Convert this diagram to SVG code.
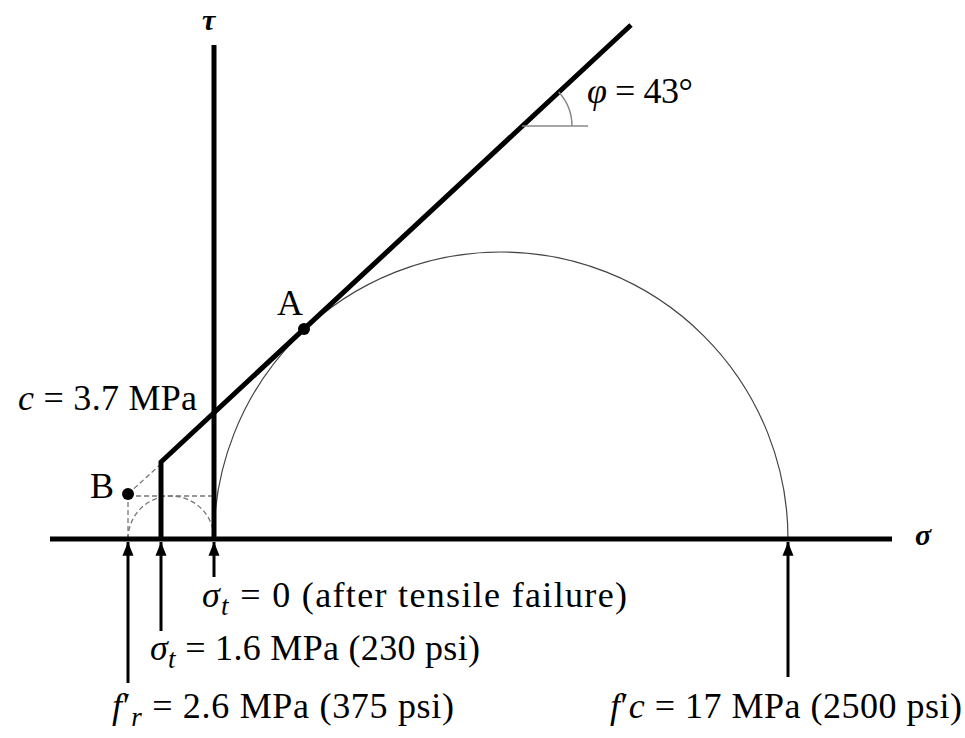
<svg xmlns="http://www.w3.org/2000/svg" width="965" height="738" viewBox="0 0 965 738">
<defs>
<style>
.t{font-family:"Liberation Serif","Times New Roman",serif;font-size:36px;fill:#000}
.i{font-style:italic}
.ax{font-family:"Liberation Serif","Times New Roman",serif;font-size:30px;font-weight:bold;font-style:italic}
.thick{stroke:#000;stroke-width:5;fill:none}
.thin{stroke:#444;stroke-width:1.2;fill:none}
.dash{stroke:#777;stroke-width:1.3;fill:none;stroke-dasharray:5 3}
.arr{stroke:#000;stroke-width:3;fill:none;marker-end:url(#ah)}
</style>
<marker id="ah" viewBox="0 0 10 8" refX="10" refY="4" markerWidth="4.6" markerHeight="3.7" orient="auto" markerUnits="strokeWidth">
<path d="M0,0 L10,4 L0,8 z" fill="#000"/>
</marker>
</defs>
<rect width="965" height="738" fill="#fff"/>
<g id="circles">
<path class="thin" d="M214,539 A287,287 0 0 1 788,539"/>
<path class="dash" d="M128,539 A43,43 0 0 1 214,539"/>
</g>
<g id="construction">
<line class="dash" x1="128" y1="496" x2="214" y2="496"/>
<line class="dash" x1="128" y1="494" x2="128" y2="539"/>
<line class="dash" x1="128" y1="494" x2="161" y2="464"/>
</g>
<g id="axes">
<line class="thick" x1="50" y1="539" x2="892" y2="539"/>
<line class="thick" x1="214" y1="45" x2="214" y2="539"/>
</g>
<g id="envelope">
<polyline class="thick" points="161,539 161,462 631,25" stroke-linejoin="miter"/>
<line x1="522" y1="126" x2="588" y2="126" stroke="#888" stroke-width="1.5"/>
<path d="M572,126 A50,50 0 0 0 558.6,91.9" stroke="#888" stroke-width="1.5" fill="none"/>
</g>
<g id="pointA"><circle cx="304" cy="329" r="6" fill="#000"/><text class="t" x="277" y="315">A</text></g>
<g id="pointB"><circle cx="128" cy="494" r="6" fill="#000"/><text class="t" x="90" y="498">B</text></g>
<g id="connectors">
<line class="arr" x1="128" y1="683" x2="128" y2="542"/>
<line class="arr" x1="161" y1="631" x2="161" y2="542"/>
<line class="arr" x1="214" y1="577" x2="214" y2="542"/>
<line class="arr" x1="788" y1="677" x2="788" y2="542"/>
</g>
<g id="labels">
<text class="ax" x="202" y="30">τ</text>
<text class="ax" x="915" y="545">σ</text>
<text class="t" x="587" y="103" textLength="106" lengthAdjust="spacing"><tspan class="i">φ</tspan> = 43°</text>
<text class="t" x="18" y="410" textLength="179" lengthAdjust="spacing"><tspan class="i">c</tspan> = 3.7 MPa</text>
<text class="t" x="202" y="607" textLength="425" lengthAdjust="spacing"><tspan class="i">σ</tspan><tspan class="i" font-size="27" dy="8">t</tspan><tspan dy="-8"> = 0 (after tensile failure)</tspan></text>
<text class="t" x="150" y="660" textLength="330" lengthAdjust="spacing"><tspan class="i">σ</tspan><tspan class="i" font-size="27" dy="8">t</tspan><tspan dy="-8"> = 1.6 MPa (230 psi)</tspan></text>
<text class="t" x="112" y="718" textLength="342" lengthAdjust="spacing"><tspan class="i">f</tspan><tspan>′</tspan><tspan class="i" font-size="27" dy="8">r</tspan><tspan dy="-8"> = 2.6 MPa (375 psi)</tspan></text>
<text class="t" x="610" y="718" textLength="352" lengthAdjust="spacing"><tspan class="i">f</tspan><tspan>′</tspan><tspan class="i">c</tspan> = 17 MPa (2500 psi)</text>
</g>
</svg>
